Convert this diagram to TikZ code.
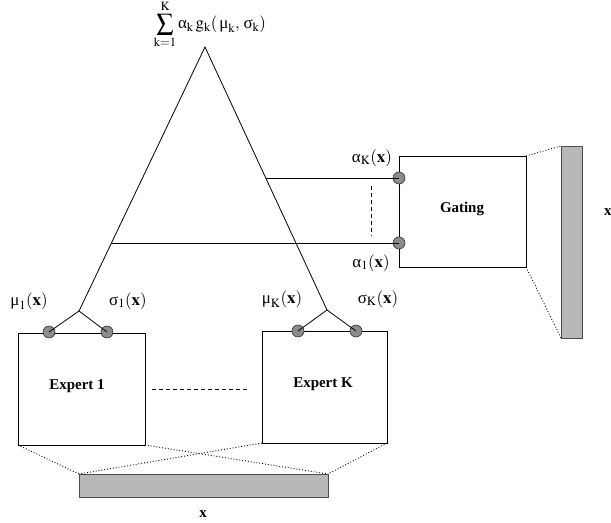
\documentclass[tikz,border=0pt]{standalone}
\usepackage{mathptmx}
\usepackage{fontspec}
\setmainfont{Liberation Serif}
\usetikzlibrary{calc}
\newcommand{\gmu}{\mbox{μ}}
\newcommand{\gsig}{\mbox{σ}}
\newcommand{\galp}{\mbox{α}}
\begin{document}
\begin{tikzpicture}[x=1bp,y=-1bp,
  ln/.style={draw=black,line width=0.8bp},
  box/.style={draw=black,line width=0.8bp,fill=white},
  bar/.style={draw=black!70,line width=0.8bp,fill=black!28},
  dot/.style={circle,draw=black!80,line width=0.6bp,fill=black!45,minimum size=12bp,inner sep=0pt},
  dotl/.style={draw=black,line width=0.9bp,dotted},
  lab/.style={font=\fontsize{17}{19}\selectfont,inner sep=0pt},
  blab/.style={font=\fontsize{15}{18}\selectfont\bfseries,inner sep=0pt}]
\useasboundingbox (0,0) rectangle (611,523);
% coordinates
\coordinate (apex) at (205,47);
\coordinate (f1) at (79,311);
\coordinate (fK) at (327,310);
% boxes
\draw[box] (18,333) rectangle (145,445);
\node[blab] (e1) at (77,386) {Expert 1};
\coordinate (e1bl) at (18,445);
\coordinate (e1br) at (145,445);
\draw[box] (262,331) rectangle (387,443);
\node[blab] (eK) at (323,384) {Expert K};
\coordinate (eKbl) at (262,443);
\coordinate (eKbr) at (387,443);
\draw[box] (399,156) rectangle (526,267);
\node[blab] (gate) at (462,209) {Gating};
\coordinate (gtr) at (526,156);
\coordinate (gbr) at (526,267);
% bars
\draw[bar] (79,474) rectangle (328,497);
\coordinate (bbl) at (79,474);
\coordinate (bbr) at (328,474);
\draw[bar] (561,146) rectangle (582,338);
\coordinate (rbt) at (561,146);
\coordinate (rbb) at (561,338);
\node[blab] (xb) at (203,514) {x};
\node[blab,anchor=west] (xr) at (604,212) {x};
% dotted projections
\draw[dotl] (e1bl) -- (bbl);
\draw[dotl] (e1br) -- (bbr);
\draw[dotl] (eKbl) -- (bbl);
\draw[dotl] (eKbr) -- (bbr);
\draw[dotl] (gtr) -- (rbt);
\draw[dotl] (gbr) -- (rbb);
% triangle
\draw[ln] (f1) -- (apex) -- (fK);
% dots
\node[dot] (m1) at (49,332) {};
\node[dot] (s1) at (107,332) {};
\node[dot] (mK) at (298,331) {};
\node[dot] (sK) at (356,331) {};
\node[dot] (aK) at (399,178) {};
\node[dot] (a1) at (399,243) {};
\draw[ln] (m1.center) -- (f1) -- (s1.center);
\draw[ln] (mK.center) -- (fK) -- (sK.center);
% horizontal lines to gating
\coordinate (hK) at ($(apex)!0.498!(fK)$);
\coordinate (h1) at ($(apex)!0.742!(f1)$);
\draw[ln] (aK.center) -- (aK.center -| hK);
\draw[ln] (a1.center) -- (a1.center -| h1);
\draw[ln,dash pattern=on 4bp off 3bp] (371,186) coordinate (dt) -- (371,236) coordinate (db);
\draw[ln,dash pattern=on 4bp off 3bp] (152,389) coordinate (dl) -- (247,389) coordinate (dr);
% labels
\node[lab] (lm1) at (29,301) {$\gmu_1(\mathbf{x})$};
\node[lab] (ls1) at (128,301) {$\gsig_1(\mathbf{x})$};
\node[lab] (lmK) at (282,299) {$\gmu_\mathrm{K}(\mathbf{x})$};
\node[lab] (lsK) at (378,299) {$\gsig_\mathrm{K}(\mathbf{x})$};
\node[lab] (laK) at (372,158) {$\galp_\mathrm{K}(\mathbf{x})$};
\node[lab] (la1) at (371,263) {$\galp_1(\mathbf{x})$};
\node[lab] (sum) at (210,24) {$\displaystyle\sum_{\mathrm{k}=1}^{\mathrm{K}}\galp_\mathrm{k}\, \mathrm{g}_\mathrm{k}(\,\gmu_\mathrm{k},\,\gsig_\mathrm{k})$};
\end{tikzpicture}
\end{document}
